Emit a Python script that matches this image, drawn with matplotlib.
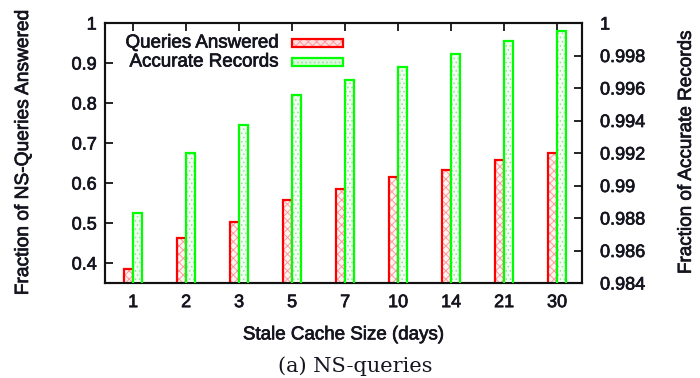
import matplotlib
matplotlib.use("Agg")
import matplotlib.pyplot as plt
from matplotlib.patches import Rectangle
import matplotlib.patheffects as pe
import numpy as np

categories = ["1", "2", "3", "5", "7", "10", "14", "21", "30"]
queries_answered = [0.385, 0.463, 0.502, 0.557, 0.585, 0.615, 0.632, 0.657, 0.675]
accurate_records = [0.9883, 0.9920, 0.9937, 0.9956, 0.9965, 0.9973, 0.9981, 0.9989, 0.9995]
left_ticks = [0.4, 0.5, 0.6, 0.7, 0.8, 0.9, 1.0]
left_ticklabels = ["0.4", "0.5", "0.6", "0.7", "0.8", "0.9", "1"]
right_ticks = [0.984, 0.986, 0.988, 0.990, 0.992, 0.994, 0.996, 0.998, 1.0]
right_ticklabels = ["0.984", "0.986", "0.988", "0.99", "0.992", "0.994", "0.996", "0.998", "1"]

plt.rcParams['font.family'] = ['Liberation Sans', 'DejaVu Sans']
plt.rcParams['hatch.linewidth'] = 0.7

RED = "#ff0000"
GREEN = "#00ff00"
RED_H = "#ff9a9a"
GREEN_H = "#99e699"
TXT = "#151520"
heavy = [pe.withStroke(linewidth=0.5, foreground=TXT)]

fig = plt.figure(figsize=(7, 3.78), dpi=100)
ax = fig.add_axes([0.15, 0.2513, 0.6814, 0.6878])
ax2 = ax.twinx()

x = np.arange(len(categories))
w = 0.17

# red bars (left axis)
ax.bar(x, queries_answered, width=-w, align='edge', facecolor='#fff4f4',
       edgecolor=RED_H, hatch='xxxx', linewidth=0, zorder=2)
ax.bar(x, queries_answered, width=-w, align='edge', facecolor='none',
       edgecolor=RED, linewidth=1.6, zorder=3)
# green bars (right axis)
ax2.bar(x, accurate_records, width=w, align='edge', facecolor='#f4fff4',
        edgecolor=GREEN_H, hatch='....', linewidth=0, zorder=2)
ax2.bar(x, accurate_records, width=w, align='edge', facecolor='none',
        edgecolor=GREEN, linewidth=1.6, zorder=3)

ax.set_xlim(-0.53, 8.47)
ax.set_ylim(0.35, 1.0)
ax2.set_ylim(0.984, 1.0)

ax.set_xticks(x)
ax.set_xticklabels(categories)
ax.set_yticks(left_ticks)
ax.set_yticklabels(left_ticklabels)
ax2.set_yticks(right_ticks)
ax2.set_yticklabels(right_ticklabels)

ax.tick_params(axis='x', direction='in', top=True, bottom=True, length=6,
               width=1.2, pad=8, labelsize=13, labelcolor=TXT)
ax.tick_params(axis='y', direction='in', left=True, right=False, length=6,
               width=1.2, pad=6, labelsize=13, labelcolor=TXT)
ax2.tick_params(axis='y', direction='in', right=True, length=6,
                width=1.2, pad=13, labelsize=13, labelcolor=TXT)

for a in (ax, ax2):
    for s in a.spines.values():
        s.set_linewidth(1.5)
        s.set_color('#111111')
    for t in a.get_xticklabels() + a.get_yticklabels():
        t.set_path_effects(heavy)

ax.set_xlabel("Stale Cache Size (days)", fontsize=13.5, color=TXT, labelpad=11,
              path_effects=heavy)
ax.set_ylabel("Fraction of NS-Queries Answered", fontsize=13.8, color=TXT,
              path_effects=heavy)
ax2.set_ylabel("Fraction of Accurate Records", fontsize=13.6, color=TXT,
               path_effects=heavy)
ax.yaxis.set_label_coords(-0.153, 0.5)
ax2.yaxis.set_label_coords(1.201, 0.5)

# legend (gnuplot style: right-aligned text, sample on the right)
leg = [("Queries Answered", RED_H, '#ffe0e0', 'xxxx', RED, 0.923),
       ("Accurate Records", GREEN_H, '#dcf8dc', '....', GREEN, 0.850)]
for label, hc, fc, hatch, ec, yc in leg:
    ax.text(0.363, yc, label, transform=ax.transAxes, ha='right', va='center',
            fontsize=13.5, color=TXT, zorder=5, path_effects=heavy)
    ax.add_patch(Rectangle((0.392, yc - 0.016), 0.107, 0.032, transform=ax.transAxes,
                           facecolor=fc, edgecolor=hc, hatch=hatch, linewidth=0,
                           zorder=5, clip_on=False))
    ax.add_patch(Rectangle((0.392, yc - 0.016), 0.107, 0.032, transform=ax.transAxes,
                           facecolor='none', edgecolor=ec, linewidth=1.6,
                           zorder=6, clip_on=False))

fig.text(0.508, 0.03, "(a) NS-queries", ha='center', va='center',
         fontsize=15, family=['DejaVu Serif'], color=TXT)

fig.savefig("out.png", dpi=100)
